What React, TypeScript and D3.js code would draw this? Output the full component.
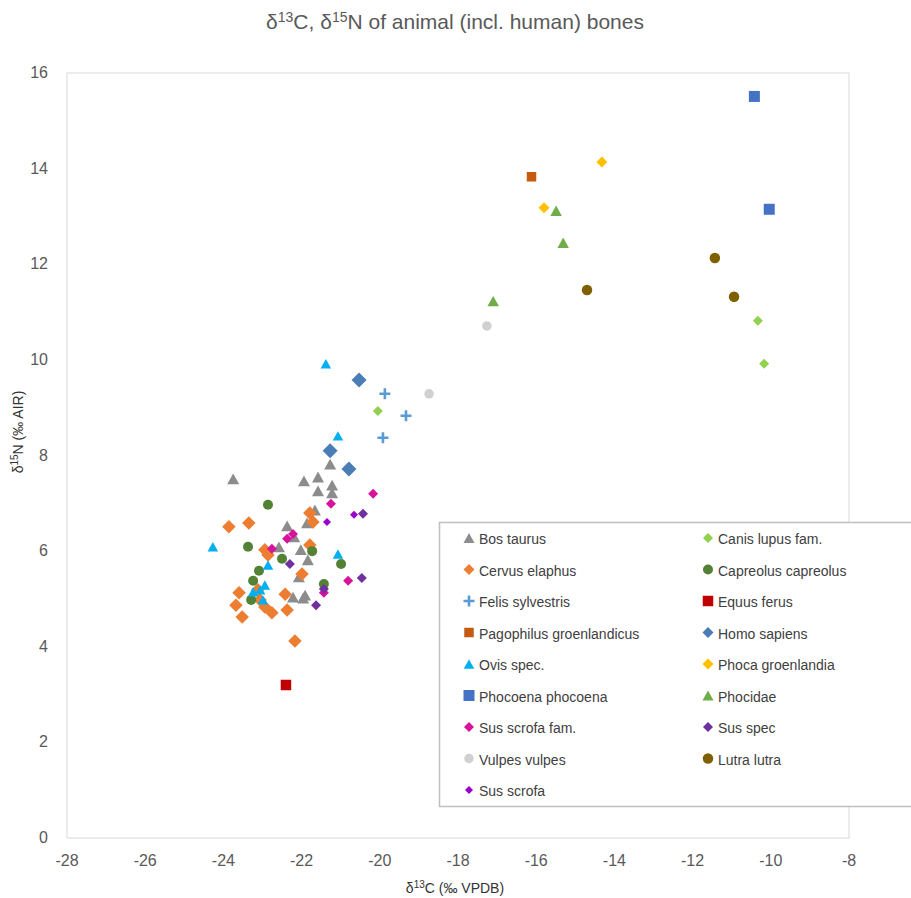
import React from "react";
import * as d3 from "d3";

type P = [number, number];

const bosTaurus: P[] = [
  [-23.75, 7.51], [-21.94, 7.47], [-21.58, 7.55], [-21.58, 7.26], [-21.27, 7.82],
  [-21.22, 7.38], [-21.22, 7.22], [-21.66, 6.86], [-21.86, 6.59], [-22.37, 6.53],
  [-22.19, 6.3], [-22.58, 6.09], [-22.02, 6.03], [-21.84, 5.82], [-22.07, 5.46],
  [-22.22, 5.04], [-21.91, 5.08], [-21.96, 5.02],
];
const canisLupus: P[] = [[-20.05, 8.93], [-10.33, 10.82], [-10.17, 9.92]];
const cervusElaphus: P[] = [
  [-23.86, 6.51], [-23.35, 6.59], [-21.79, 6.8], [-21.71, 6.61], [-22.94, 6.03],
  [-22.86, 5.92], [-21.79, 6.13], [-21.99, 5.52], [-23.12, 5.19], [-23.6, 5.13],
  [-23.68, 4.87], [-23.52, 4.62], [-22.42, 5.1], [-22.37, 4.77], [-23.06, 4.98],
  [-22.94, 4.83], [-22.76, 4.71], [-22.17, 4.12],
];
const capreolus: P[] = [
  [-22.86, 6.97], [-23.37, 6.09], [-22.5, 5.84], [-21.73, 6.0], [-23.09, 5.59],
  [-20.99, 5.73], [-23.24, 5.38], [-21.43, 5.31], [-23.29, 4.98],
];
const felis: P[] = [[-19.87, 9.29], [-19.33, 8.83], [-19.92, 8.37]];
const equus: P[] = [[-22.4, 3.2]];
const pagophilus: P[] = [[-16.12, 13.83]];
const homo: P[] = [[-20.53, 9.58], [-21.27, 8.1], [-20.79, 7.72]];
const ovis: P[] = [
  [-21.38, 9.92], [-21.07, 8.41], [-24.27, 6.09], [-21.07, 5.94], [-22.86, 5.71],
  [-22.94, 5.29], [-23.24, 5.15], [-23.06, 5.19], [-22.99, 4.98],
];
const phocaGroen: P[] = [[-14.32, 14.14], [-15.8, 13.18]];
const phocoena: P[] = [[-10.42, 15.51], [-10.04, 13.15]];
const phocidae: P[] = [[-15.49, 13.12], [-15.31, 12.45], [-17.1, 11.23]];
const susFam: P[] = [
  [-20.17, 7.2], [-21.25, 6.99], [-22.22, 6.36], [-22.37, 6.26], [-22.76, 6.05],
  [-20.81, 5.38], [-21.43, 5.13],
];
const susSpec: P[] = [[-20.43, 6.78], [-22.3, 5.73], [-20.46, 5.44], [-21.43, 5.21], [-21.63, 4.87]];
const vulpes: P[] = [[-18.74, 9.29], [-17.26, 10.71]];
const lutra: P[] = [[-14.7, 11.46], [-11.43, 12.13], [-10.94, 11.32]];
const susScrofa: P[] = [[-20.66, 6.76], [-21.35, 6.61]];

const seriesNames = [
  "Bos taurus", "Canis lupus fam.", "Cervus elaphus", "Capreolus capreolus",
  "Felis sylvestris", "Equus ferus", "Pagophilus groenlandicus", "Homo sapiens",
  "Ovis spec.", "Phoca groenlandia", "Phocoena phocoena", "Phocidae",
  "Sus scrofa fam.", "Sus spec", "Vulpes vulpes", "Lutra lutra", "Sus scrofa",
];
const seriesData: P[][] = [
  bosTaurus, canisLupus, cervusElaphus, capreolus, felis, equus, pagophilus, homo,
  ovis, phocaGroen, phocoena, phocidae, susFam, susSpec, vulpes, lutra, susScrofa,
];

type Shape = "tri" | "dia" | "sq" | "circ" | "plus";
const styles: { shape: Shape; size: number; color: string }[] = [
  { shape: "tri", size: 12, color: "#8C8C8C" },
  { shape: "dia", size: 10, color: "#92D050" },
  { shape: "dia", size: 13.5, color: "#ED7D31" },
  { shape: "circ", size: 10, color: "#548235" },
  { shape: "plus", size: 11, color: "#5B9BD5" },
  { shape: "sq", size: 10.5, color: "#C00000" },
  { shape: "sq", size: 9.5, color: "#C55A11" },
  { shape: "dia", size: 15, color: "#4A7DB5" },
  { shape: "tri", size: 10.5, color: "#00B0F0" },
  { shape: "dia", size: 11, color: "#FFC000" },
  { shape: "sq", size: 11, color: "#4472C4" },
  { shape: "tri", size: 11.5, color: "#70AD47" },
  { shape: "dia", size: 10, color: "#D6139A" },
  { shape: "dia", size: 10, color: "#7030A0" },
  { shape: "circ", size: 9.5, color: "#D0D0D0" },
  { shape: "circ", size: 10.5, color: "#7F6000" },
  { shape: "dia", size: 8, color: "#9900CC" },
];

const xTicks = [-28, -26, -24, -22, -20, -18, -16, -14, -12, -10, -8];
const yTicks = [0, 2, 4, 6, 8, 10, 12, 14, 16];

const W = 911, H = 898;
const x = d3.scaleLinear().domain([-28, -8]).range([67, 849]);
const y = d3.scaleLinear().domain([0, 16]).range([838, 73]);

function marker(shape: Shape, s: number, color: string, cx: number, cy: number, key: string) {
  const h = s / 2;
  if (shape === "circ") return <circle key={key} cx={cx} cy={cy} r={h} fill={color} />;
  if (shape === "sq") return <rect key={key} x={cx - h} y={cy - h} width={s} height={s} fill={color} />;
  if (shape === "dia")
    return <path key={key} d={`M${cx},${cy - h}L${cx + h},${cy}L${cx},${cy + h}L${cx - h},${cy}Z`} fill={color} />;
  if (shape === "tri") {
    const th = s * 0.9;
    return <path key={key} d={`M${cx},${cy - th / 2}L${cx + h},${cy + th / 2}L${cx - h},${cy + th / 2}Z`} fill={color} />;
  }
  return (
    <path key={key} d={`M${cx - h},${cy}H${cx + h}M${cx},${cy - h}V${cy + h}`} stroke={color} strokeWidth={2.6} fill="none" />
  );
}

const narrow = "'Liberation Sans Narrow', 'Arial Narrow', sans-serif";
const legendFont = "'Liberation Sans', Arial, sans-serif";

export default function App() {
  const rowY = (i: number) => 539 + i * 31.5;
  return (
    <svg width={W} height={H} style={{ position: "absolute", left: 0, top: 0, background: "#fff" }}>
      <rect x={0} y={0} width={W} height={H} fill="#fff" />
      <text x={455} y={29} textAnchor="middle" fontFamily={narrow} fontSize={21} fill="#595959">
        δ<tspan fontSize={14} dy={-7}>13</tspan>
        <tspan dy={7}>C, δ</tspan>
        <tspan fontSize={14} dy={-7}>15</tspan>
        <tspan dy={7}>N of animal (incl. human) bones</tspan>
      </text>
      <rect x={x(-28)} y={y(16)} width={x(-8) - x(-28)} height={y(0) - y(16)} fill="none" stroke="#D9D9D9" strokeWidth={1} />
      {yTicks.map((t) => (
        <text key={"y" + t} x={48} y={y(t) + 5} textAnchor="end" fontFamily={narrow} fontSize={16} fill="#595959">
          {t}
        </text>
      ))}
      {xTicks.map((t) => (
        <text key={"x" + t} x={x(t)} y={866} textAnchor="middle" fontFamily={narrow} fontSize={16} fill="#595959">
          {t}
        </text>
      ))}
      <text x={455} y={893} textAnchor="middle" fontFamily={narrow} fontSize={14} fill="#333">
        δ<tspan fontSize={10} dy={-5}>13</tspan>
        <tspan dy={5}>C (‰ VPDB)</tspan>
      </text>
      <text transform="translate(23,432) rotate(-90)" textAnchor="middle" fontFamily={narrow} fontSize={14} fill="#333">
        δ<tspan fontSize={10} dy={-5}>15</tspan>
        <tspan dy={5}>N (‰ AIR)</tspan>
      </text>
      {seriesData.map((pts, si) =>
        pts.map((p, i) => marker(styles[si].shape, styles[si].size, styles[si].color, x(p[0]), y(p[1]), `m${si}-${i}`))
      )}
      <rect x={439.5} y={522.5} width={500} height={284} fill="#fff" stroke="#BFBFBF" strokeWidth={1.5} />
      {seriesNames.map((n, i) => {
        const col = i % 2;
        const row = Math.floor(i / 2);
        const mx = col === 0 ? 469 : 708;
        const ty = rowY(row);
        const st = styles[i];
        return (
          <g key={"lg" + i}>
            {marker(st.shape, Math.min(st.size, 11), st.color, mx, ty - 1, "lm" + i)}
            <text x={mx + 10} y={ty + 5} fontFamily={legendFont} fontSize={14} fill="#404040">
              {n}
            </text>
          </g>
        );
      })}
    </svg>
  );
}
